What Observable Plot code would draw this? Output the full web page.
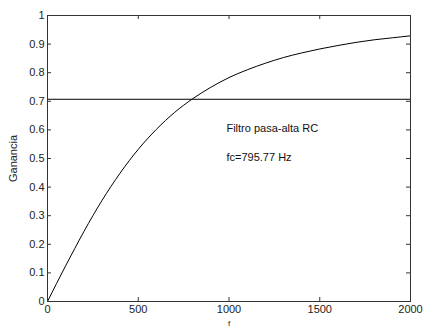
<!DOCTYPE html>
<html>
<head>
<meta charset="utf-8">
<script src="https://cdn.jsdelivr.net/npm/d3@7"></script>
<script src="https://cdn.jsdelivr.net/npm/@observablehq/plot@0.6"></script>
<style>
  html, body { margin: 0; padding: 0; background: #fff; }
  #chart svg { display: block; }
</style>
</head>
<body>
<div id="chart"></div>
<script>
// Frequency (Hz) and gain
const freq = [0, 50, 100, 150, 200, 300, 400, 500, 600, 700, 800, 900, 1000, 1100, 1200, 1300, 1400, 1500, 1600, 1700, 1800, 1900, 2000];
const gain = [0, 0.063, 0.125, 0.185, 0.244, 0.353, 0.449, 0.532, 0.602, 0.661, 0.709, 0.749, 0.783, 0.810, 0.833, 0.853, 0.869, 0.883, 0.895, 0.906, 0.915, 0.922, 0.929];
const cutoffGain = [0.7071];
const xTicks = [0, 500, 1000, 1500, 2000];
const xTickLabels = ["0", "500", "1000", "1500", "2000"];
const yTicks = [0, 0.1, 0.2, 0.3, 0.4, 0.5, 0.6, 0.7, 0.8, 0.9, 1];
const yTickLabels = ["0", "0.1", "0.2", "0.3", "0.4", "0.5", "0.6", "0.7", "0.8", "0.9", "1"];
const notes = ["Filtro pasa-alta RC", "fc=795.77 Hz"];
const noteX = [986, 986];
const noteY = [0.605, 0.503];

const data = freq.map((f, i) => ({f, g: gain[i]}));
const noteData = notes.map((t, i) => ({t, x: noteX[i], y: noteY[i]}));

const W = 426, H = 328;
const mL = 47, mR = 16, mT = 15, mB = 27;
const fw = W - mL - mR, fh = H - mT - mB;
const tk = 4;

const chart = Plot.plot({
  width: W,
  height: H,
  marginLeft: mL,
  marginRight: mR,
  marginTop: mT,
  marginBottom: mB,
  style: {fontFamily: "'Liberation Sans', Arial, sans-serif", fontSize: "11px", color: "#222", background: "#fff"},
  x: {domain: [0, 2000]},
  y: {domain: [0, 1]},
  marks: [
    // inward ticks
    Plot.tickX(xTicks, {x: d => d, stroke: "#333", insetTop: fh - tk}),
    Plot.tickX(xTicks, {x: d => d, stroke: "#333", insetBottom: fh - tk}),
    Plot.tickY(yTicks, {y: d => d, stroke: "#333", insetRight: fw - tk}),
    Plot.tickY(yTicks, {y: d => d, stroke: "#333", insetLeft: fw - tk}),
    Plot.axisX(xTicks, {tickSize: 0, tickPadding: 4, tickFormat: (d, i) => xTickLabels[i], label: null, fontSize: 11}),
    Plot.axisX({ticks: [], tickSize: 0, label: "f", labelAnchor: "center", labelArrow: "none", labelOffset: 24, fontSize: 8}),
    Plot.axisY(yTicks, {tickSize: 0, tickPadding: 3, tickFormat: (d, i) => yTickLabels[i], label: "Ganancia", labelAnchor: "center", labelArrow: "none", labelOffset: 38, fontSize: 11}),
    Plot.ruleY(cutoffGain, {stroke: "#000", strokeWidth: 1}),
    Plot.line(data, {x: "f", y: "g", stroke: "#000", strokeWidth: 1, curve: "monotone-x"}),
    Plot.text(noteData, {x: "x", y: "y", text: "t", textAnchor: "start", fill: "#111", fontSize: 11}),
    Plot.frame({stroke: "#333"})
  ]
});
document.getElementById("chart").appendChild(chart);
</script>
</body>
</html>
